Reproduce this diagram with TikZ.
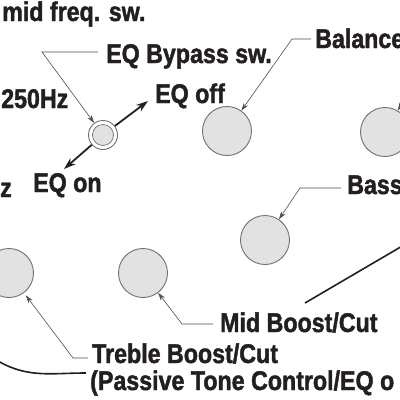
\documentclass[tikz,border=0pt]{standalone}
\usepackage{fontspec}
\setmainfont{Liberation Sans}[FakeStretch=0.86,FakeBold=1.6]
\usepackage{xcolor}
\usepackage{tikz}
\usetikzlibrary{arrows.meta,calc}
\definecolor{inkblack}{RGB}{35,31,32}
\definecolor{knobgrey}{RGB}{112,112,112}
\definecolor{knobfill}{RGB}{226,226,226}
\tikzset{
  knob/.style={circle,draw=knobgrey,line width=0.9pt,fill=knobfill,
    minimum size=49pt,inner sep=0pt},
  ring/.style={circle,draw=knobgrey,line width=0.9pt,fill=white,
    minimum size=29pt,inner sep=0pt},
  switchtop/.style={circle,draw=knobgrey,line width=0.7pt,fill=knobfill,
    minimum size=21pt,inner sep=0pt},
  tag/.style={anchor=base west,inner sep=0pt,text=inkblack,
    font=\fontsize{27}{30}\selectfont\bfseries},
  leader/.style={draw=inkblack!80,line width=0.6pt,
    -{Stealth[length=8pt,width=5pt]}},
  swarrow/.style={draw=inkblack,line width=1.8pt,
    -{Stealth[length=12pt,width=8pt]}},
  heavyline/.style={draw=inkblack,line width=1.6pt}
}

\begin{document}
\begin{tikzpicture}[x=1pt,y=-1pt]
  \useasboundingbox (0,0) rectangle (400,400);

  % knobs
  \node[ring] (switch) at (103,135) {};
  \node[switchtop] (switchtop) at (103,135) {};
  \node[knob] (balance) at (227,131) {};
  \node[knob] (volume) at (385,132) {};
  \node[knob] (bass) at (265,240) {};
  \node[knob] (mid) at (143,273) {};
  \node[knob] (treble) at (9,273) {};

  % labels
  \node[tag] (midfreq) at (2,21) {mid freq. sw.};
  \node[tag] (bypasstxt) at (106,63) {EQ Bypass sw.};
  \node[tag] (lowfreq) at (1,108) {250Hz};
  \node[tag] (eqoff) at (155,103) {EQ off};
  \node[tag] (eqon) at (33,192) {EQ on};
  \node[tag] (hz) at (0,197) {z};
  \node[tag] (balancetxt) at (315,48) {Balance};
  \node[tag] (basstxt) at (347,194) {Bass};
  \node[tag] (midtxt) at (220,332) {Mid Boost/Cut};
  \node[tag] (trebletxt) at (92,363) {Treble Boost/Cut};
  \node[tag] (passivetxt) at (90,390) {(Passive Tone Control/EQ o};

  % leader points
  \coordinate (bypassend) at (98,52);
  \coordinate (bypassbend) at (42,52);
  \coordinate (balanceend) at (311,39);
  \coordinate (balancebend) at (292,39);
  \coordinate (bassend) at (341,188);
  \coordinate (bassbend) at (300,188);
  \coordinate (midend) at (213,324);
  \coordinate (midbend) at (182,324);
  \coordinate (trebleend) at (88,358);
  \coordinate (treblebend) at (73,358);
  \coordinate (volumeend) at (410,90);
  \coordinate (eqoffend) at (148,101);
  \coordinate (eqonend) at (64,169);
  \coordinate (passivestart) at (-2,361);
  \coordinate (passiveend) at (86,373);
  \coordinate (outerstart) at (404,245);
  \coordinate (outerend) at (305,303);

  % leaders
  \draw[leader] (bypassend) -- (bypassbend) -- (switch);
  \draw[leader] (balanceend) -- (balancebend) -- (balance);
  \draw[leader] (bassend) -- (bassbend) -- (bass);
  \draw[leader] (midend) -- (midbend) -- (mid);
  \draw[leader,shorten >=3pt] (trebleend) -- (treblebend) -- (treble);
  \draw[leader] (volumeend) -- (volume);
  \draw[swarrow] (switch) -- (eqoffend);
  \draw[swarrow] (switch) -- (eqonend);
  \draw[heavyline] (passivestart) to[out=-30,in=180] (passiveend);
  \draw[heavyline] (outerstart) -- (outerend);
\end{tikzpicture}
\end{document}
